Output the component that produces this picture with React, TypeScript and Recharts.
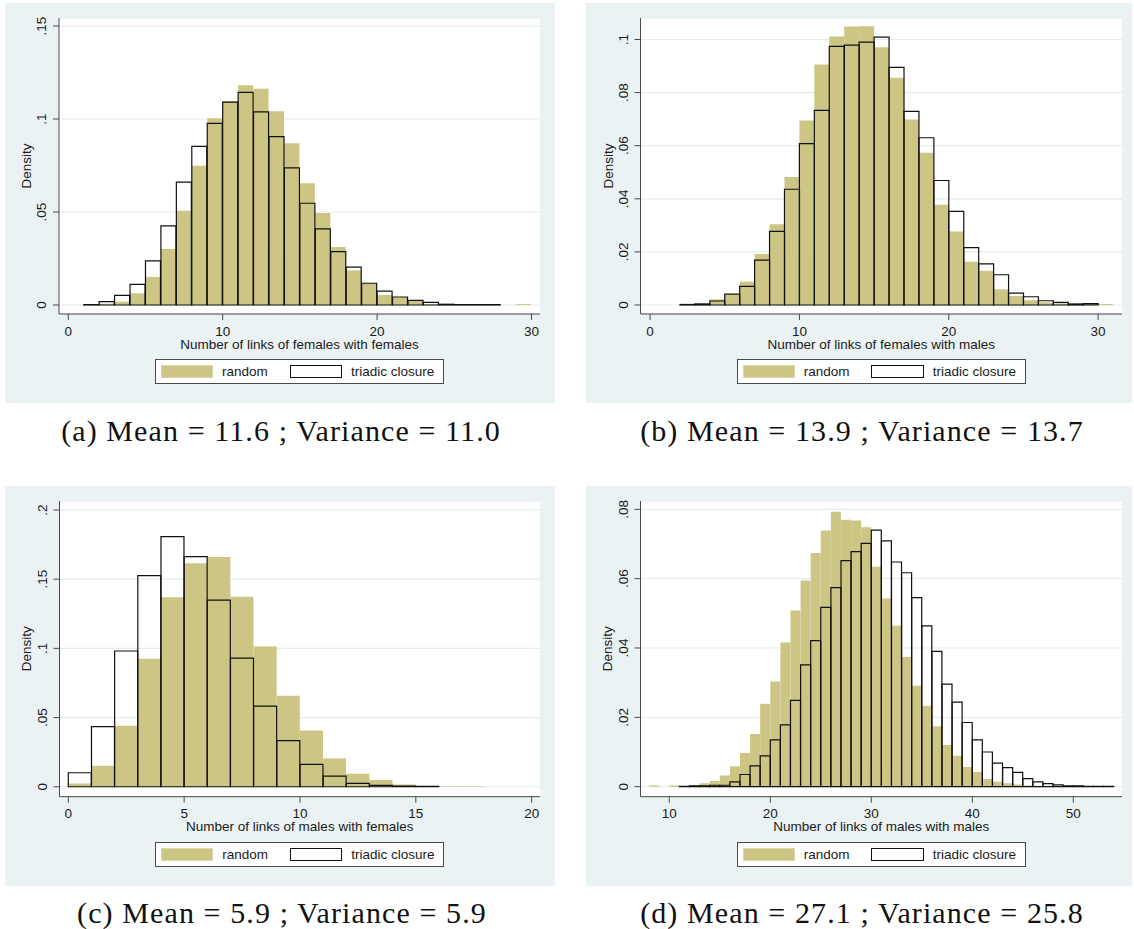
import React from 'react';
import { ComposedChart, Bar, XAxis, YAxis, CartesianGrid } from 'recharts';

const PANEL_BG = '#EAF2F3';
const GRID = '#E3ECEF';
const AXIS = '#4A4A4A';
const INK = '#1A1A1A';
const OLIVE = '#CCC584';
const SANS = '"Liberation Sans", Arial, sans-serif';

// (a) links of females with females
const binsA = [1, 2, 3, 4, 5, 6, 7, 8, 9, 10, 11, 12, 13, 14, 15, 16, 17, 18, 19, 20, 21, 22, 23, 24, 25, 26, 27, 28, 29];
const randomA = [null, 0.0007, 0.0018, 0.0063, 0.0151, 0.0301, 0.0507, 0.0749, 0.1004, 0.1095, 0.1181, 0.1163, 0.1041, 0.0869, 0.0654, 0.0495, 0.0312, 0.0186, 0.0116, 0.0054, 0.0041, 0.0027, 0.0004, 0.0001, null, null, null, null, 0.0005];
const triadicA = [0.0002, 0.0018, 0.0052, 0.0111, 0.0237, 0.0425, 0.0661, 0.0853, 0.0977, 0.1091, 0.1143, 0.1038, 0.0905, 0.0737, 0.0547, 0.0409, 0.0287, 0.0204, 0.0117, 0.0075, 0.0043, 0.0025, 0.0014, 0.0004, 0.0002, 0.0002, 0.0002, null, null];

// (b) links of females with males
const binsB = [2, 3, 4, 5, 6, 7, 8, 9, 10, 11, 12, 13, 14, 15, 16, 17, 18, 19, 20, 21, 22, 23, 24, 25, 26, 27, 28, 29, 30];
const randomB = [null, 0.0005, 0.0021, 0.004, 0.0088, 0.0192, 0.0304, 0.0482, 0.0695, 0.0906, 0.1011, 0.1049, 0.105, 0.0971, 0.0856, 0.0699, 0.0573, 0.0378, 0.0277, 0.0163, 0.0129, 0.0059, 0.0034, 0.0018, 0.001, 0.0006, 0.0003, 0.0003, 0.0004];
const triadicB = [0.0002, 0.0004, 0.0015, 0.0041, 0.007, 0.0169, 0.0277, 0.0436, 0.0608, 0.0733, 0.0974, 0.0979, 0.099, 0.1009, 0.0895, 0.0729, 0.063, 0.0469, 0.0353, 0.0216, 0.0155, 0.0114, 0.0045, 0.0031, 0.0016, 0.001, 0.0004, 0.0005, null];

// (c) links of males with females
const binsC = [0, 1, 2, 3, 4, 5, 6, 7, 8, 9, 10, 11, 12, 13, 14, 15, 16, 17];
const randomC = [0.0024, 0.0152, 0.0441, 0.0925, 0.1369, 0.1615, 0.166, 0.1373, 0.1014, 0.0658, 0.0407, 0.0205, 0.0094, 0.0048, 0.0017, 0.0005, 0.0003, 0.0003];
const triadicC = [0.0101, 0.0434, 0.0981, 0.1526, 0.1807, 0.1663, 0.1349, 0.093, 0.0583, 0.0333, 0.0161, 0.0077, 0.0024, 0.001, 0.0004, 0.0002, null, null];

// (d) links of males with males
const binsD = [8, 9, 10, 11, 12, 13, 14, 15, 16, 17, 18, 19, 20, 21, 22, 23, 24, 25, 26, 27, 28, 29, 30, 31, 32, 33, 34, 35, 36, 37, 38, 39, 40, 41, 42, 43, 44, 45, 46, 47, 48, 49, 50, 51, 52, 53];
const randomD = [0.0003, null, 0.0003, 0.0002, 0.0004, 0.001, 0.0016, 0.0032, 0.0059, 0.0097, 0.0152, 0.0239, 0.0303, 0.0416, 0.0508, 0.0595, 0.0674, 0.0739, 0.0793, 0.077, 0.0768, 0.0748, 0.0634, 0.0543, 0.0464, 0.0374, 0.0291, 0.0233, 0.0174, 0.012, 0.0089, 0.0057, 0.0042, 0.0022, 0.0014, 0.001, 0.0006, 0.0003, 0.0002, 0.0001, null, null, null, null, null, null];
const triadicD = [null, null, null, 0.0001, 0.0002, 0.0002, 0.0004, 0.0004, 0.0014, 0.0035, 0.006, 0.0089, 0.0135, 0.0178, 0.0249, 0.0351, 0.0421, 0.0517, 0.0574, 0.0652, 0.0678, 0.0702, 0.074, 0.0709, 0.0648, 0.0617, 0.0545, 0.0464, 0.039, 0.0296, 0.0244, 0.0185, 0.0135, 0.01, 0.0068, 0.0055, 0.0041, 0.0023, 0.0014, 0.0009, 0.0005, 0.0002, 0.0002, 0.0001, 0.0001, 0.0001];

const seriesNames = ['random', 'triadic closure'];

interface Box { x: number; y: number; w: number; h: number }
interface Plot { left: number; top: number; right: number; bottom: number }
interface PanelDef {
  id: string;
  caption: string;
  xTitle: string;
  bins: number[];
  random: (number | null)[];
  triadic: (number | null)[];
  xDomain: [number, number];
  yDomain: [number, number];
  xTicks: number[];
  yTicks: number[];
  box: Box;
  plot: Plot;
  captionX: number;
  captionY: number;
}

const panels: PanelDef[] = [
  {
    id: 'a',
    caption: '(a) Mean = 11.6 ; Variance = 11.0',
    xTitle: 'Number of links of females with females',
    bins: binsA, random: randomA, triadic: triadicA,
    xDomain: [-0.6, 30.55], yDomain: [-0.00484, 0.1543],
    xTicks: [0, 10, 20, 30], yTicks: [0, 0.05, 0.1, 0.15],
    box: { x: 5, y: 3, w: 550, h: 400 },
    plot: { left: 59, top: 18, right: 540, bottom: 314 },
    captionX: 281, captionY: 431,
  },
  {
    id: 'b',
    caption: '(b) Mean = 13.9 ; Variance = 13.7',
    xTitle: 'Number of links of females with males',
    bins: binsB, random: randomB, triadic: triadicB,
    xDomain: [-0.64, 31.6], yDomain: [-0.00339, 0.1081],
    xTicks: [0, 10, 20, 30], yTicks: [0, 0.02, 0.04, 0.06, 0.08, 0.1],
    box: { x: 586, y: 3, w: 546, h: 400 },
    plot: { left: 640.5, top: 18, right: 1122, bottom: 314 },
    captionX: 862, captionY: 431,
  },
  {
    id: 'c',
    caption: '(c) Mean = 5.9 ; Variance = 5.9',
    xTitle: 'Number of links of males with females',
    bins: binsC, random: randomC, triadic: triadicC,
    xDomain: [-0.38, 20.36], yDomain: [-0.0072, 0.2065],
    xTicks: [0, 5, 10, 15, 20], yTicks: [0, 0.05, 0.1, 0.15, 0.2],
    box: { x: 5, y: 486, w: 550, h: 400 },
    plot: { left: 59.5, top: 501, right: 540, bottom: 796.7 },
    captionX: 282, captionY: 913,
  },
  {
    id: 'd',
    caption: '(d) Mean = 27.1 ; Variance = 25.8',
    xTitle: 'Number of links of males with males',
    bins: binsD, random: randomD, triadic: triadicD,
    xDomain: [7.15, 54.82], yDomain: [-0.0029, 0.0824],
    xTicks: [10, 20, 30, 40, 50], yTicks: [0, 0.02, 0.04, 0.06, 0.08],
    box: { x: 586, y: 486, w: 546, h: 400 },
    plot: { left: 640.5, top: 501, right: 1122, bottom: 796.7 },
    captionX: 862, captionY: 913,
  },
];

// Stata style: ".05" instead of "0.05", drawn vertically
const DensityTick = (props: any) => {
  const { x, y, payload } = props;
  const v: number = payload.value;
  const label = v === 0 ? '0' : String(v).replace(/^0/, '');
  const bx = x - 4.7;
  return (
    <text x={bx} y={y} transform={`rotate(-90, ${bx}, ${y})`} textAnchor="middle"
      fontSize={13.5} fontFamily={SANS} fill={INK}>
      {label}
    </text>
  );
};

const LegendBox = ({ left, top }: { left: number; top: number }) => (
  <div style={{
    position: 'absolute', left, top, width: 289, height: 25, boxSizing: 'border-box',
    border: `1px solid ${AXIS}`, background: '#fff', fontFamily: SANS, fontSize: 13.5, color: INK,
  }}>
    <div style={{ position: 'absolute', left: 5, top: 4.5, width: 52, height: 13, background: OLIVE, boxSizing: 'border-box', border: '1px solid #DCD8AC' }} />
    <div style={{ position: 'absolute', left: 66, top: 0, lineHeight: '23px' }}>{seriesNames[0]}</div>
    <div style={{ position: 'absolute', left: 133.5, top: 4.5, width: 52.5, height: 13.5, background: '#fff', boxSizing: 'border-box', border: '1.5px solid #111' }} />
    <div style={{ position: 'absolute', left: 195, top: 0, lineHeight: '23px' }}>{seriesNames[1]}</div>
  </div>
);

const HistPanel = ({ p }: { p: PanelDef }) => {
  const { box, plot } = p;
  const rows = p.bins.map((bin, i) => ({ bin, random: p.random[i], triadic: p.triadic[i] }));

  // the hidden band axes line each bin [k, k+1] up with the numeric tick axis
  const pxPerUnit = (plot.right - plot.left) / (p.xDomain[1] - p.xDomain[0]);
  const padL = (p.bins[0] - p.xDomain[0]) * pxPerUnit;
  const padR = (p.xDomain[1] - (p.bins[p.bins.length - 1] + 1)) * pxPerUnit;

  const yAxisWidth = plot.left - box.x;
  const xAxisHeight = box.y + box.h - plot.bottom;
  const plotMid = (plot.left + plot.right) / 2 - box.x;

  return (
    <>
      <div style={{ position: 'absolute', left: box.x, top: box.y, width: box.w, height: box.h, background: PANEL_BG }}>
        <ComposedChart
          width={box.w}
          height={box.h}
          data={rows}
          margin={{ top: plot.top - box.y, right: box.x + box.w - plot.right, left: 0, bottom: 0 }}
          barCategoryGap={0}
          barGap={0}
        >
          <CartesianGrid xAxisId="n" vertical={false} stroke={GRID} strokeWidth={1.2} fill="#fff" fillOpacity={1} />
          <XAxis
            xAxisId="n"
            type="number"
            dataKey="bin"
            domain={p.xDomain}
            allowDataOverflow
            ticks={p.xTicks}
            interval={0}
            height={xAxisHeight}
            tickSize={6}
            tickMargin={6}
            axisLine={{ stroke: AXIS }}
            tickLine={{ stroke: AXIS }}
            tick={{ fontSize: 13.5, fontFamily: SANS, fill: INK }}
            label={{
              content: (lp: any) => {
                const vb = lp.viewBox;
                return (
                  <text x={vb.x + vb.width / 2} y={vb.y + 34.5} textAnchor="middle" fontSize={13.5} fontFamily={SANS} fill={INK}>
                    {p.xTitle}
                  </text>
                );
              },
            }}
          />
          <XAxis xAxisId="r" dataKey="bin" type="category" hide padding={{ left: padL, right: padR }} />
          <XAxis xAxisId="t" dataKey="bin" type="category" hide padding={{ left: padL, right: padR }} />
          <YAxis
            type="number"
            domain={p.yDomain}
            allowDataOverflow
            ticks={p.yTicks}
            interval={0}
            width={yAxisWidth}
            tickSize={6}
            axisLine={{ stroke: AXIS }}
            tickLine={{ stroke: AXIS }}
            tick={<DensityTick />}
            label={{
              content: (lp: any) => {
                const vb = lp.viewBox;
                const lx = vb.x + vb.width - 28;
                const ly = vb.y + vb.height / 2;
                return (
                  <text x={lx} y={ly} transform={`rotate(-90, ${lx}, ${ly})`} textAnchor="middle" fontSize={13.5} fontFamily={SANS} fill={INK}>
                    Density
                  </text>
                );
              },
            }}
          />
          <Bar xAxisId="r" dataKey="random" name={seriesNames[0]} fill={OLIVE} isAnimationActive={false} />
          <Bar xAxisId="t" dataKey="triadic" name={seriesNames[1]} fill="none" stroke="#111" strokeWidth={1.2} isAnimationActive={false} />
        </ComposedChart>
        <LegendBox left={plotMid - 144.5} top={plot.bottom - box.y + 45.3} />
      </div>
      <div style={{
        position: 'absolute', left: p.captionX - 260, width: 520, top: p.captionY - 20, height: 40,
        lineHeight: '40px', textAlign: 'center', fontFamily: '"Liberation Serif", "Times New Roman", serif',
        fontSize: 30, letterSpacing: 1.1, color: '#111', whiteSpace: 'nowrap',
      }}>
        {p.caption}
      </div>
    </>
  );
};

export default function App() {
  return (
    <div style={{ position: 'absolute', left: 0, top: 0, width: 1134, height: 929, background: '#fff' }}>
      {panels.map((p) => (
        <HistPanel key={p.id} p={p} />
      ))}
    </div>
  );
}
